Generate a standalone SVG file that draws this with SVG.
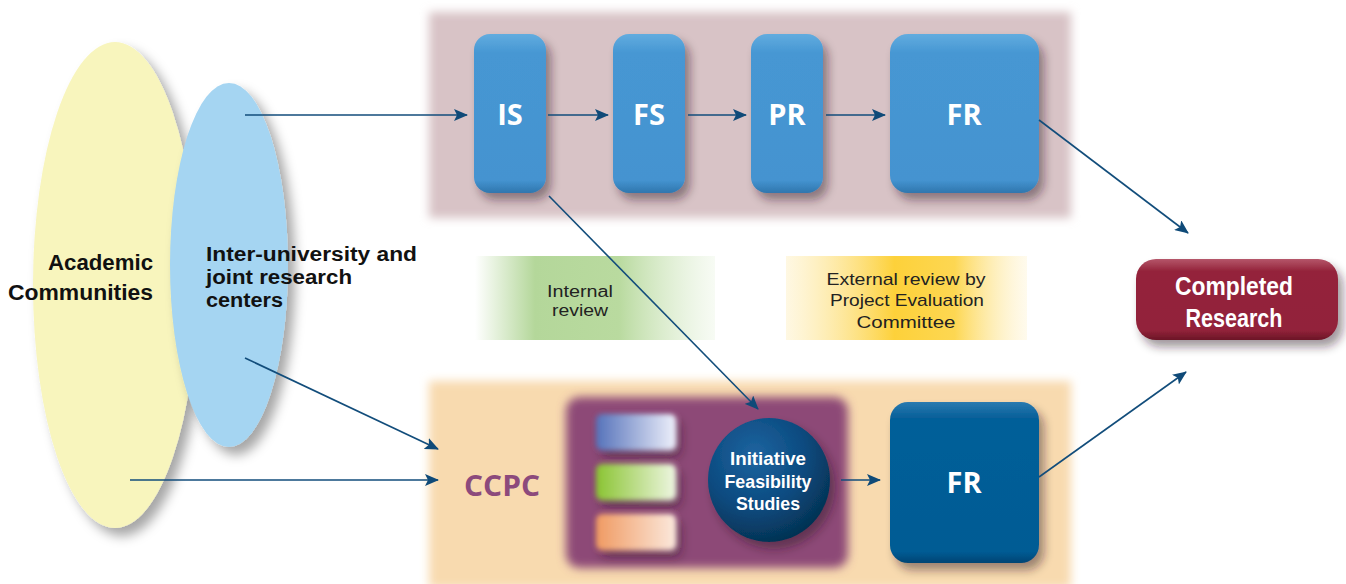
<svg xmlns="http://www.w3.org/2000/svg" width="1346" height="584" viewBox="0 0 1346 584">
<defs>
<style>
.bw{font-family:"Liberation Sans",Arial,sans-serif;font-weight:bold;fill:#fff;text-anchor:middle;}
.big{font-family:"Open Sans","Liberation Sans",sans-serif;font-weight:bold;fill:#fff;text-anchor:middle;font-size:29px;}
.blk{font-family:"Liberation Sans",Arial,sans-serif;font-weight:bold;fill:#111;}
.rev{font-family:"Liberation Sans",Arial,sans-serif;fill:#222;text-anchor:middle;}
.conn{stroke:#124d7b;stroke-width:1.6;fill:none;marker-end:url(#ah);}
</style>
<marker id="ah" markerUnits="userSpaceOnUse" markerWidth="14" markerHeight="12" refX="13" refY="6" orient="auto">
<path d="M0,0 L14,6 L0,12 L3,6 z" fill="#0f4a78"/>
</marker>
<filter id="soft" x="-10%" y="-10%" width="120%" height="120%"><feGaussianBlur stdDeviation="5"/></filter>
<filter id="soft2" x="-10%" y="-20%" width="120%" height="140%"><feGaussianBlur stdDeviation="2.5"/></filter>
<filter id="sh" x="-20%" y="-20%" width="150%" height="150%"><feDropShadow dx="5" dy="7" stdDeviation="5" flood-color="#2a1a20" flood-opacity="0.45"/></filter>
<filter id="shE" x="-30%" y="-10%" width="170%" height="130%"><feDropShadow dx="7" dy="8" stdDeviation="6" flood-color="#000" flood-opacity="0.35"/></filter>
<linearGradient id="gBlue" x1="0" y1="0" x2="0" y2="1">
<stop offset="0" stop-color="#62acdf"/><stop offset="0.12" stop-color="#4697d3"/><stop offset="0.92" stop-color="#4493d0"/><stop offset="1" stop-color="#2f76ad"/>
</linearGradient>
<linearGradient id="gDark" x1="0" y1="0" x2="0" y2="1">
<stop offset="0" stop-color="#2a7ab0"/><stop offset="0.1" stop-color="#065f99"/><stop offset="0.93" stop-color="#055b94"/><stop offset="1" stop-color="#034573"/>
</linearGradient>
<linearGradient id="gRed" x1="0" y1="0" x2="0" y2="1">
<stop offset="0" stop-color="#b5566a"/><stop offset="0.15" stop-color="#94243b"/><stop offset="0.88" stop-color="#92233a"/><stop offset="1" stop-color="#6b1526"/>
</linearGradient>
<radialGradient id="gCirc" cx="0.38" cy="0.3" r="0.75">
<stop offset="0" stop-color="#1e64a0"/><stop offset="0.55" stop-color="#0b4b80"/><stop offset="1" stop-color="#04304f"/>
</radialGradient>
<linearGradient id="gGreen" x1="0" y1="0" x2="1" y2="0">
<stop offset="0" stop-color="#b4d79a" stop-opacity="0"/><stop offset="0.25" stop-color="#b4d79a"/><stop offset="0.6" stop-color="#b9da9f"/><stop offset="1" stop-color="#d8ebc9" stop-opacity="0.2"/>
</linearGradient>
<linearGradient id="gYel" x1="0" y1="0" x2="1" y2="0">
<stop offset="0" stop-color="#fde7a0" stop-opacity="0.3"/><stop offset="0.45" stop-color="#fdd13a"/><stop offset="0.7" stop-color="#fdd752"/><stop offset="1" stop-color="#fef0c4" stop-opacity="0.3"/>
</linearGradient>
<linearGradient id="gB1" x1="0" y1="0" x2="1" y2="0"><stop offset="0" stop-color="#5572ba"/><stop offset="1" stop-color="#eef0fb"/></linearGradient>
<linearGradient id="gB2" x1="0" y1="0" x2="1" y2="0"><stop offset="0" stop-color="#8ac432"/><stop offset="1" stop-color="#eef6e2"/></linearGradient>
<linearGradient id="gB3" x1="0" y1="0" x2="1" y2="0"><stop offset="0" stop-color="#f09a62"/><stop offset="1" stop-color="#fbe9dd"/></linearGradient>
</defs>

<rect width="1346" height="584" fill="#fff"/>

<!-- panels -->
<g id="panel-top"><rect x="429" y="12" width="642" height="206" fill="#d8c3c6" filter="url(#soft)"/></g>
<g id="panel-bottom"><rect x="429" y="381" width="642" height="207" fill="#f8daaf" filter="url(#soft)"/></g>

<!-- review bands -->
<g id="internal-review">
<rect x="475" y="256" width="240" height="84" fill="url(#gGreen)"/>
<text class="rev" x="580" y="297" font-size="16" textLength="66" lengthAdjust="spacingAndGlyphs">Internal</text>
<text class="rev" x="580" y="316" font-size="16" textLength="56" lengthAdjust="spacingAndGlyphs">review</text>
</g>
<g id="external-review">
<rect x="786" y="256" width="241" height="84" fill="url(#gYel)"/>
<text class="rev" x="906" y="285" font-size="17" textLength="159" lengthAdjust="spacingAndGlyphs">External review by</text>
<text class="rev" x="907" y="306" font-size="17" textLength="154" lengthAdjust="spacingAndGlyphs">Project Evaluation</text>
<text class="rev" x="906" y="328" font-size="17" textLength="99" lengthAdjust="spacingAndGlyphs">Committee</text>
</g>

<!-- ellipses -->
<g id="academic-communities">
<ellipse cx="115" cy="285" rx="82" ry="243" fill="#f8f5bd" filter="url(#shE)"/>
<text class="blk" x="153" y="270" font-size="22" text-anchor="end" textLength="105" lengthAdjust="spacingAndGlyphs">Academic</text>
<text class="blk" x="153" y="300" font-size="22" text-anchor="end" textLength="145" lengthAdjust="spacingAndGlyphs">Communities</text>
</g>
<g id="inter-university">
<ellipse cx="229" cy="265" rx="59" ry="182" fill="#a5d5f2" filter="url(#shE)"/>
<text class="blk" x="206" y="261" font-size="20" textLength="211" lengthAdjust="spacingAndGlyphs">Inter-university and</text>
<text class="blk" x="206" y="284" font-size="20" textLength="146" lengthAdjust="spacingAndGlyphs">joint research</text>
<text class="blk" x="206" y="307" font-size="20" textLength="77" lengthAdjust="spacingAndGlyphs">centers</text>
</g>

<!-- top process -->
<g id="IS"><rect x="474" y="34" width="72" height="159" rx="16" fill="url(#gBlue)" filter="url(#sh)"/><text class="big" x="510" y="125">IS</text></g>
<g id="FS"><rect x="613" y="34" width="72" height="159" rx="16" fill="url(#gBlue)" filter="url(#sh)"/><text class="big" x="649" y="125">FS</text></g>
<g id="PR"><rect x="751" y="34" width="72" height="159" rx="16" fill="url(#gBlue)" filter="url(#sh)"/><text class="big" x="787" y="125">PR</text></g>
<g id="FR-top"><rect x="890" y="34" width="149" height="159" rx="18" fill="url(#gBlue)" filter="url(#sh)"/><text class="big" x="964" y="125">FR</text></g>

<!-- bottom -->
<g id="CCPC"><text x="502" y="496" font-family="'Open Sans','Liberation Sans',sans-serif" font-weight="bold" font-size="28" fill="#8c4a7c" text-anchor="middle" textLength="76" lengthAdjust="spacingAndGlyphs">CCPC</text></g>
<g id="ccpc-group">
<rect x="566" y="397" width="282" height="171" rx="14" fill="#8d4877" filter="url(#soft)"/>
<g filter="url(#sh)">
<rect x="596" y="414" width="80" height="36" rx="6" fill="url(#gB1)" filter="url(#soft2)"/>
<rect x="596" y="464" width="80" height="36" rx="6" fill="url(#gB2)" filter="url(#soft2)"/>
<rect x="596" y="514" width="80" height="36" rx="6" fill="url(#gB3)" filter="url(#soft2)"/>
</g>
</g>
<g id="initiative">
<ellipse cx="769" cy="480" rx="61" ry="62" fill="url(#gCirc)" filter="url(#sh)"/>
<text class="bw" x="768" y="465" font-size="19" font-weight="normal" textLength="76" lengthAdjust="spacingAndGlyphs">Initiative</text>
<text class="bw" x="768" y="488" font-size="19" font-weight="normal" textLength="87" lengthAdjust="spacingAndGlyphs">Feasibility</text>
<text class="bw" x="768" y="510" font-size="19" font-weight="normal" textLength="64" lengthAdjust="spacingAndGlyphs">Studies</text>
</g>
<g id="FR-bottom"><rect x="890" y="402" width="149" height="161" rx="18" fill="url(#gDark)" filter="url(#sh)"/><text class="big" x="964" y="493">FR</text></g>

<g id="completed">
<rect x="1136" y="259" width="202" height="81" rx="20" fill="url(#gRed)" filter="url(#sh)"/>
<text class="bw" x="1234" y="295" font-size="26" textLength="118" lengthAdjust="spacingAndGlyphs">Completed</text>
<text class="bw" x="1234" y="327" font-size="26" textLength="97" lengthAdjust="spacingAndGlyphs">Research</text>
</g>

<!-- connectors -->
<g id="connectors">
<line class="conn" x1="245" y1="115" x2="467" y2="115"/>
<line class="conn" x1="548" y1="115" x2="608" y2="115"/>
<line class="conn" x1="688" y1="115" x2="746" y2="115"/>
<line class="conn" x1="826" y1="115" x2="885" y2="115"/>
<line class="conn" x1="1039" y1="120" x2="1188" y2="233"/>
<line class="conn" x1="549" y1="196" x2="758" y2="409"/>
<line class="conn" x1="245" y1="358" x2="438" y2="449"/>
<line class="conn" x1="130" y1="480" x2="438" y2="480"/>
<line class="conn" x1="841" y1="480" x2="880" y2="480"/>
<line class="conn" x1="1039" y1="477" x2="1186" y2="372"/>
</g>
</svg>
